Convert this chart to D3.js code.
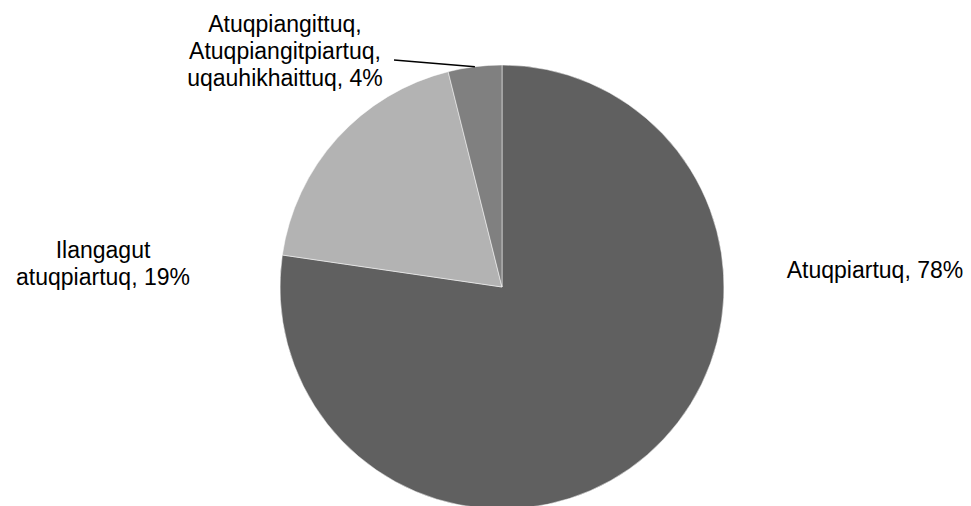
<!DOCTYPE html>
<html>
<head>
<meta charset="utf-8">
<script src="https://cdn.jsdelivr.net/npm/d3@7"></script>
<style>
  body { margin: 0; background: #fff; }
  text { font-family: "Liberation Sans", Arial, sans-serif; font-size: 23px; fill: #000; }
</style>
</head>
<body>
<svg width="971" height="506"></svg>
<script>
// slice data, clockwise from 12 o'clock
const names = ['Atuqpiartuq', 'Ilangagut atuqpiartuq', 'Atuqpiangittuq, Atuqpiangitpiartuq, uqauhikhaittuq']
const values = [77.3, 18.8, 3.9]
const pctLabels = ['78%', '19%', '4%']
const labelLines = [
  ['Atuqpiartuq, 78%'],
  ['Ilangagut', 'atuqpiartuq, 19%'],
  ['Atuqpiangittuq,', 'Atuqpiangitpiartuq,', 'uqauhikhaittuq, 4%']
]
const colors = ['#606060', '#b3b3b3', '#808080']

const svg = d3.select('svg')
const cx = 502, cy = 287, r = 222

const g = svg.append('g').attr('transform', 'translate(' + cx + ',' + cy + ')')

const pie = d3.pie().sort(null).value(d => d)
const arc = d3.arc().innerRadius(0).outerRadius(r)
const arcs = pie(values)

g.selectAll('path')
  .data(arcs)
  .enter().append('path')
    .attr('d', arc)
    .attr('fill', (d, i) => colors[i])
    .attr('stroke', '#fff')
    .attr('stroke-width', 0.5)

// label placement
const labelPos = [
  {x: 875, y: 278},
  {x: 103, y: 258},
  {x: 285, y: 32}
]
const lineH = 26.8

labelLines.forEach((lines, i) => {
  const p = labelPos[i]
  const t = svg.append('text')
    .attr('text-anchor', 'middle')
  lines.forEach((s, j) => {
    t.append('tspan')
      .attr('x', p.x)
      .attr('y', p.y + j * lineH)
      .text(s)
  })
})

// leader line for the small slice
const a = arcs[2]
const mid = (a.startAngle + a.endAngle) / 2
const ex = cx + Math.sin(mid) * r, ey = cy - Math.cos(mid) * r
svg.append('path')
  .attr('d', 'M394,60L' + ex + ',' + ey)
  .attr('stroke', '#000')
  .attr('stroke-width', 1.5)
  .attr('fill', 'none')
</script>
</body>
</html>
